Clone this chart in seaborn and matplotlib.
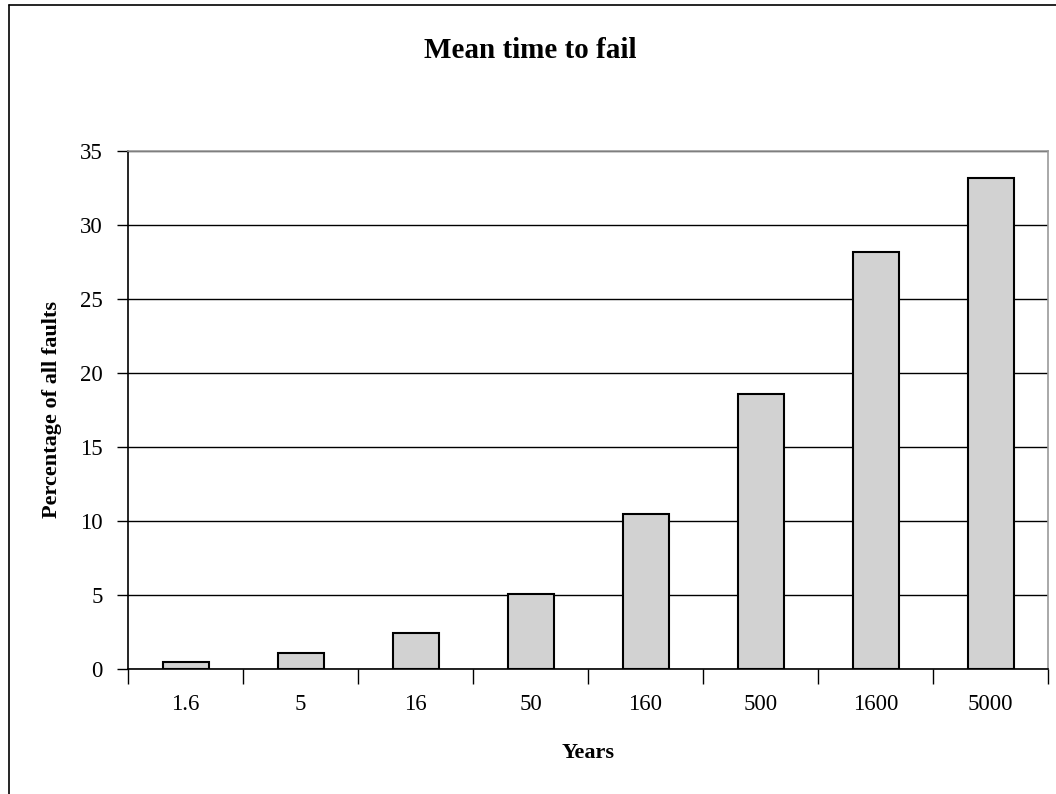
import matplotlib
matplotlib.use("Agg")
import matplotlib.pyplot as plt
import seaborn as sns
import pandas as pd
from matplotlib.lines import Line2D

years = ["1.6", "5", "16", "50", "160", "500", "1600", "5000"]
percent = [0.5, 1.1, 2.4, 5.1, 10.5, 18.6, 28.2, 33.2]

sns.set_style("white")
plt.rcParams['font.family'] = ['Liberation Serif', 'DejaVu Serif']
plt.rcParams['text.color'] = 'black'
plt.rcParams['axes.labelcolor'] = 'black'
plt.rcParams['xtick.color'] = 'black'
plt.rcParams['ytick.color'] = 'black'

df = pd.DataFrame({"Years": years, "Percent": percent})

fig = plt.figure(figsize=(10.56, 7.94), dpi=100)
ax = fig.add_axes([128/1056, 1-669/794, 920/1056, 518/794])

sns.barplot(data=df, x="Years", y="Percent", order=years, color="#d2d2d2",
            width=0.4, edgecolor="black", linewidth=1.5, saturation=1, ax=ax, zorder=3)

ax.set_ylim(0, 35)
ax.set_xlim(-0.5, len(years) - 0.5)
ax.set_yticks(range(0, 36, 5))
ax.yaxis.grid(True, color="black", linewidth=1.0, zorder=0)
ax.set_axisbelow(True)
ax.tick_params(axis="y", which="major", length=8, width=1, direction="out", left=True,
               labelsize=16.5, pad=10, color="black", labelcolor="black")
ax.tick_params(axis="x", which="major", length=0, labelsize=16.5, pad=18, labelcolor="black")
ax.set_xticks([i - 0.5 for i in range(len(years) + 1)], minor=True)
ax.tick_params(axis="x", which="minor", length=11, width=1, direction="out", bottom=True, color="black")

for s in ["left", "bottom"]:
    ax.spines[s].set_color("black")
    ax.spines[s].set_linewidth(1.2)
for s in ["top", "right"]:
    ax.spines[s].set_color("#999999")
    ax.spines[s].set_linewidth(1.2)

ax.set_xlabel("Years", fontsize=16, fontweight="bold", labelpad=20, color="black")
ax.set_ylabel("Percentage of all faults", fontsize=16, fontweight="bold", labelpad=13, color="black")
fig.text(530/1056, 1-50/794, "Mean time to fail", ha="center", va="center",
         fontsize=21, fontweight="bold", color="black")

fig.add_artist(Line2D([9/1056, 9/1056], [0, 1-5/794], color="black", linewidth=1.2, transform=fig.transFigure))
fig.add_artist(Line2D([9/1056, 1], [1-5/794, 1-5/794], color="black", linewidth=1.2, transform=fig.transFigure))

fig.savefig("out.png", dpi=100)
